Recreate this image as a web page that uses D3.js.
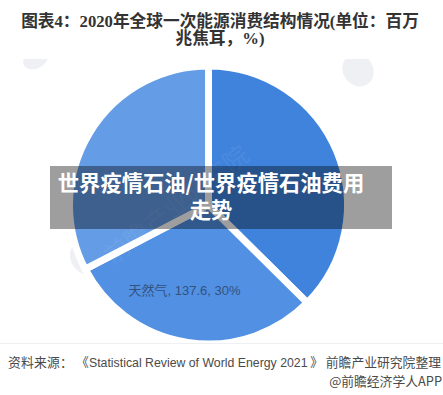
<!DOCTYPE html>
<html>
<head>
<meta charset="utf-8">
<script src="https://cdn.jsdelivr.net/npm/d3@7"></script>
<style>
  html, body { margin: 0; padding: 0; background: #fff; }
  svg { display: block; }
</style>
</head>
<body>
<div id="chart-area"></div>
<script>
const categories = ["煤炭", "天然气", "石油"];
const values = [172, 137.6, 150];
const shares = [37, 30, 33];
const sliceColors = ["#3f83dd", "#5190e2", "#659ce6"];
const titleLines = ["图表4：2020年全球一次能源消费结构情况(单位：百万", "兆焦耳，%)"];
const bannerLines = ["世界疫情石油/世界疫情石油费用", "走势"];
const sourceHead = "资料来源：";
const sourceOpen = "《";
const sourceName = "Statistical Review of World Energy 2021";
const sourceTail = "》 前瞻产业研究院整理";
const sourceRight = "@前瞻经济学人APP";
const watermark = "前瞻产业研究院";

const svgWidth = 443;
const svgHeight = 395;
const cjk = "'Noto Sans CJK SC', sans-serif";
const serif = "'Liberation Serif', 'Noto Sans CJK SC', serif";
const latin = "'Liberation Sans', 'Noto Sans CJK SC', sans-serif";

const svg = d3.select("#chart-area")
              .append("svg")
              .attr("width", svgWidth)
              .attr("height", svgHeight);

svg.append("rect")
   .attr("width", svgWidth)
   .attr("height", svgHeight)
   .attr("fill", "#ffffff");

// faint logo blobs of the watermark, clipped at the top like the source image
svg.append("clipPath")
   .attr("id", "wm-clip")
   .append("rect")
     .attr("y", 59)
     .attr("width", svgWidth)
     .attr("height", svgHeight - 59);

const blobs = svg.append("g")
                 .attr("clip-path", "url(#wm-clip)")
                 .attr("fill", "#eff0f4");

blobs.append("ellipse")
     .attr("transform", "translate(36, 58) rotate(-35)")
     .attr("rx", 14)
     .attr("ry", 10);

blobs.append("ellipse")
     .attr("transform", "translate(358, 70) rotate(-35)")
     .attr("rx", 15)
     .attr("ry", 17);

blobs.append("ellipse")
     .attr("transform", "translate(86, 258) rotate(-35)")
     .attr("rx", 15)
     .attr("ry", 18);

svg.selectAll(".title")
   .data(titleLines)
   .enter()
   .append("text")
     .attr("class", "title")
     .attr("x", 220)
     .attr("y", (d, i) => 27 + i * 17)
     .attr("text-anchor", "middle")
     .attr("font-family", serif)
     .attr("font-size", 16.7)
     .attr("font-weight", "bold")
     .attr("fill", "#333333")
     .text(d => d);

const pie = d3.pie().sort(null).value(d => d);
const arc = d3.arc().innerRadius(0).outerRadius(139);

const g = svg.append("g")
             .attr("transform", "translate(208.5, 205)");

g.selectAll("path")
 .data(pie(values))
 .enter()
 .append("path")
   .attr("d", arc)
   .attr("fill", (d, i) => sliceColors[i])
   .attr("stroke", "#ffffff")
   .attr("stroke-width", 7);

svg.append("text")
   .attr("transform", "translate(182, 212) rotate(-38)")
   .attr("text-anchor", "middle")
   .attr("font-family", cjk)
   .attr("font-size", 25)
   .attr("fill", "#ffffff")
   .attr("fill-opacity", 0.07)
   .text(watermark);

svg.append("text")
   .attr("x", 184.5)
   .attr("y", 295)
   .attr("text-anchor", "middle")
   .attr("font-family", latin)
   .attr("font-size", 13)
   .attr("fill", "#33527f")
   .text(`${categories[1]}, ${values[1]}, ${shares[1]}%`);

svg.append("line")
   .attr("x1", 0)
   .attr("x2", svgWidth)
   .attr("y1", 343.5)
   .attr("y2", 343.5)
   .attr("stroke", "#eef1f4");

svg.append("rect")
   .attr("x", 50)
   .attr("y", 166)
   .attr("width", 342)
   .attr("height", 63)
   .attr("fill", "#000000")
   .attr("fill-opacity", 0.38);

svg.selectAll(".banner")
   .data(bannerLines)
   .enter()
   .append("text")
     .attr("class", "banner")
     .attr("x", 211)
     .attr("y", (d, i) => 191 + i * 27)
     .attr("text-anchor", "middle")
     .attr("font-family", cjk)
     .attr("font-size", 21.3)
     .attr("font-weight", "bold")
     .attr("fill", "#ffffff")
     .text(d => d);

const source = svg.append("g")
                  .attr("font-size", 12.8)
                  .attr("fill", "#4a4a4a");

source.append("text")
      .attr("x", 8)
      .attr("y", 367)
      .attr("font-family", cjk)
      .attr("letter-spacing", 0.2)
      .text(sourceHead);

source.append("text")
      .attr("x", 76)
      .attr("y", 367)
      .attr("font-family", cjk)
      .text(sourceOpen);

source.append("text")
      .attr("x", 89)
      .attr("y", 367)
      .attr("font-family", latin)
      .attr("font-size", 12.3)
      .text(sourceName);

source.append("text")
      .attr("x", 441)
      .attr("y", 367)
      .attr("text-anchor", "end")
      .attr("font-family", cjk)
      .text(sourceTail);

source.append("text")
      .attr("x", 442)
      .attr("y", 386)
      .attr("text-anchor", "end")
      .attr("font-family", cjk)
      .text(sourceRight);
</script>
</body>
</html>
